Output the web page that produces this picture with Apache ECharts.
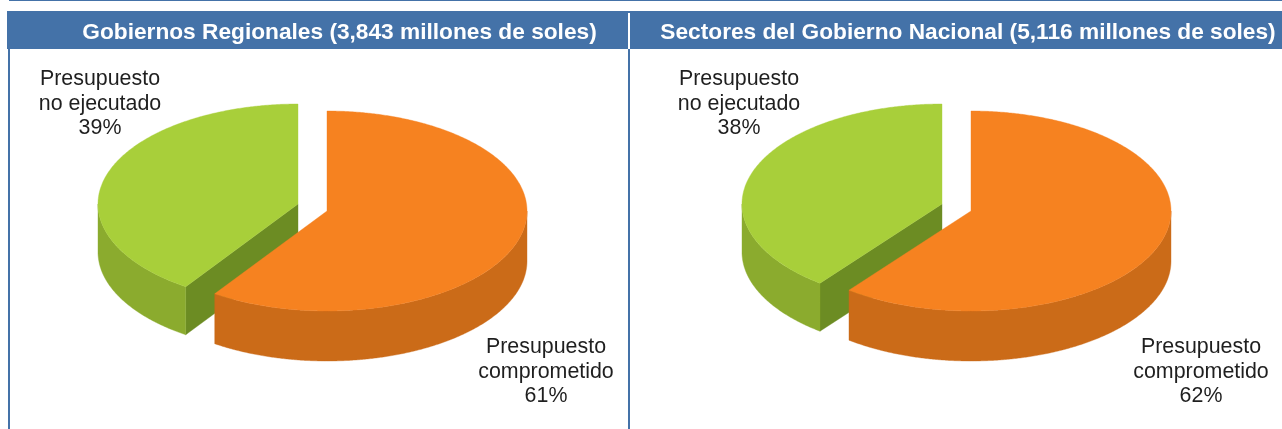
<!DOCTYPE html>
<html><head><meta charset="utf-8">
<style>html,body{margin:0;padding:0;background:#fff}#c{width:1282px;height:429px}</style>
<script src="https://cdn.jsdelivr.net/npm/echarts@6/dist/echarts.min.js"></script>
</head><body><div id="c"></div>
<script>
const sliceNames = ['Presupuesto\ncomprometido', 'Presupuesto\nno ejecutado'];
const regionalTitle = 'Gobiernos Regionales (3,843 millones de soles)';
const nationalTitle = 'Sectores del Gobierno Nacional (5,116 millones de soles)';
const regionalValues = [61, 39];
const nationalValues = [62, 38];

const RX = 200, RY = 100;
const FORESHORTEN = 0.82;
const BLUE = '#4472a8';
const sliceStyle = [
  {top: '#f68220', side: '#cb6b18', inner: '#cb6b18', dx: 0, dy: 0, depth: 50},
  {top: '#a8cf3a', side: '#8bab2e', inner: '#6c8c23', dx: -29, dy: -7, depth: 48}
];

// clockwise angle from 12 o'clock -> projected point on the tilted disc
function project(cx, cy, deg) {
  const t = deg * Math.PI / 180;
  const w = Math.atan2(Math.sin(t) * FORESHORTEN, Math.cos(t));
  return [cx + RX * Math.sin(w), cy - RY * Math.cos(w)];
}
function arc(cx, cy, a, b) {
  const pts = [], n = Math.max(2, Math.ceil(Math.abs(b - a) * 2));
  for (let i = 0; i <= n; i++) pts.push(project(cx, cy, a + (b - a) * i / n));
  return pts;
}

function pieSeries(values, cx0, cy0, labelAt) {
  const total = values.reduce((s, v) => s + v, 0);
  return {
    type: 'custom',
    coordinateSystem: 'none',
    silent: true,
    data: values.map((v, i) => ({value: [v], name: sliceNames[i]})),
    renderItem(params, api) {
      const i = params.dataIndex, st = sliceStyle[i];
      let before = 0;
      for (let k = 0; k < i; k++) before += values[k];
      const a = before / total * 360, b = (before + api.value(0)) / total * 360;
      const cx = cx0 + st.dx, cy = cy0 + st.dy, d = st.depth;
      const z = i === 0 ? 10 : 0;
      const children = [];
      const poly = (points, fill, zz) => children.push({
        type: 'polygon', z2: z + zz, shape: {points},
        style: {fill, stroke: fill, lineWidth: 0.4}
      });
      // inner cut face for the slice whose edge faces the viewer
      if (b >= 360 && a > 180) {
        const e = project(cx, cy, a);
        poly([[cx, cy], e, [e[0], e[1] + d], [cx, cy + d]], st.inner, 0);
      }
      // outer rim: only the near half of the disc is visible
      const ra = Math.max(a, 90), rb = Math.min(b, 270);
      if (rb > ra) {
        const rim = arc(cx, cy, ra, rb);
        poly(rim.concat(rim.slice().reverse().map(p => [p[0], p[1] + d])), st.side, 1);
      }
      // top face
      poly([[cx, cy]].concat(arc(cx, cy, a, b)), st.top, 2);
      children.push({
        type: 'text', z2: z + 3,
        style: {
          x: labelAt[i][0], y: labelAt[i][1],
          text: sliceNames[i] + '\n' + api.value(0) + '%',
          fill: '#1f1f1f', font: '21.4px "Liberation Sans", Arial, sans-serif',
          lineHeight: 24.5, align: 'center', verticalAlign: 'middle'
        }
      });
      return {type: 'group', children};
    }
  };
}

function headerTitle(text, center) {
  return {
    text, left: center, top: 15, textAlign: 'center',
    textStyle: {color: '#fff', fontFamily: '"Liberation Sans", Arial, sans-serif',
                fontWeight: 'bold', fontSize: 22.7, lineHeight: 26}
  };
}

const chart = echarts.init(document.getElementById('c'), null, {renderer: 'canvas'});
chart.setOption({
  animation: false,
  backgroundColor: '#fff',
  title: [headerTitle(regionalTitle, 334.5), headerTitle(nationalTitle, 963)],
  graphic: [
    {type: 'rect', z: -1, shape: {x: 9, y: 0, width: 1273, height: 1}, style: {fill: BLUE}},
    {type: 'rect', z: -1, shape: {x: 7, y: 11, width: 1275, height: 38}, style: {fill: BLUE}},
    {type: 'rect', z: -1, shape: {x: 8, y: 49, width: 2, height: 380}, style: {fill: BLUE}},
    {type: 'rect', z: -1, shape: {x: 628, y: 49, width: 2, height: 380}, style: {fill: BLUE}},
    {type: 'rect', z: -1, shape: {x: 628, y: 13, width: 2, height: 36}, style: {fill: '#fff'}}
  ],
  series: [
    pieSeries(regionalValues, 327, 211, [[546, 372], [100, 104]]),
    pieSeries(nationalValues, 971, 211, [[1201, 372], [739, 104]])
  ]
});
</script></body></html>
